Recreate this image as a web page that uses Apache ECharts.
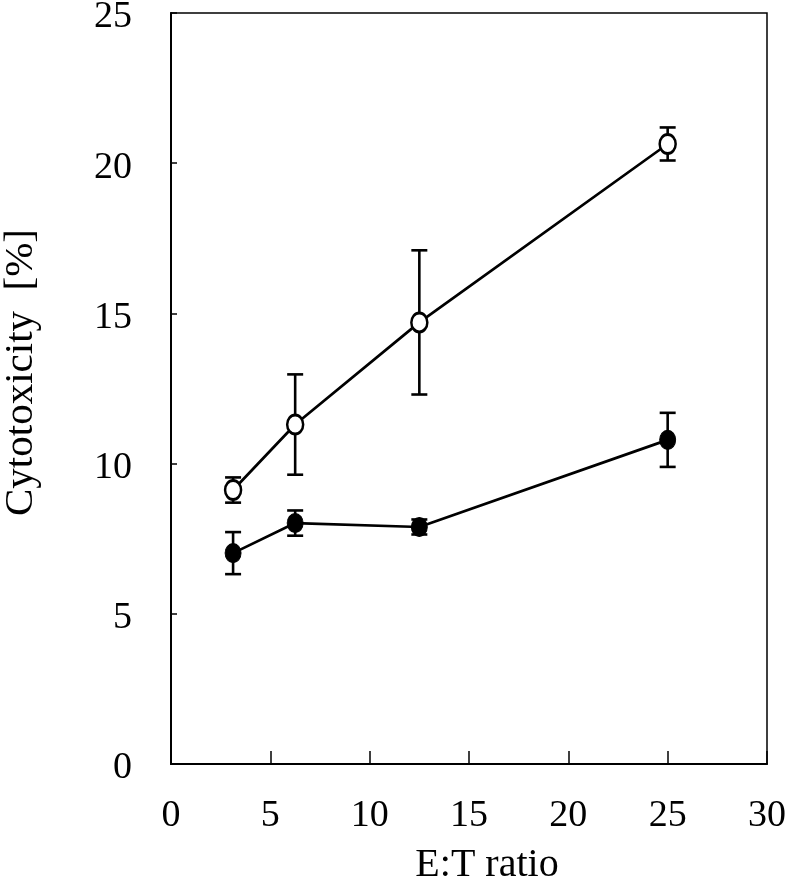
<!DOCTYPE html>
<html>
<head>
<meta charset="utf-8">
<script src="https://cdn.jsdelivr.net/npm/echarts@6/dist/echarts.min.js"></script>
<style>
html,body{margin:0;padding:0;background:#fff;}
#chart{width:787px;height:886px;}
</style>
</head>
<body>
<div id="chart"></div>
<script>
// E:T ratios
var etRatios = [3.125, 6.25, 12.5, 25];
// open circles
var openMean = [9.12, 11.3, 14.7, 20.64];
var openErr = [0.42, 1.67, 2.4, 0.55];
// filled circles
var filledMean = [7.02, 8.02, 7.89, 10.79];
var filledErr = [0.7, 0.42, 0.25, 0.9];
// axis ticks
var xTicks = [0, 5, 10, 15, 20, 25, 30];
var yTicks = [0, 5, 10, 15, 20, 25];

var FONT = '"Liberation Serif", "DejaVu Serif", serif';

function pairs(xs, ys) { return xs.map(function (x, i) { return [x, ys[i]]; }); }
function errData(xs, m, e) { return xs.map(function (x, i) { return [x, m[i] - e[i], m[i] + e[i]]; }); }

function errRender(params, api) {
  var x = api.value(0), lo = api.value(1), hi = api.value(2);
  var pLo = api.coord([x, lo]), pHi = api.coord([x, hi]);
  var w = 8;
  var st = { stroke: '#000', lineWidth: 2.6, fill: null };
  return {
    type: 'group',
    children: [
      { type: 'line', shape: { x1: pLo[0], y1: pLo[1], x2: pHi[0], y2: pHi[1] }, style: st },
      { type: 'line', shape: { x1: pHi[0] - w, y1: pHi[1], x2: pHi[0] + w, y2: pHi[1] }, style: st },
      { type: 'line', shape: { x1: pLo[0] - w, y1: pLo[1], x2: pLo[0] + w, y2: pLo[1] }, style: st }
    ]
  };
}

var chart = echarts.init(document.getElementById('chart'), null, { renderer: 'canvas' });
chart.setOption({
  animation: false,
  backgroundColor: '#fff',
  grid: { left: 171, right: 20, top: 13, bottom: 122, show: true, borderColor: '#000', borderWidth: 1.5, containLabel: false, outerBoundsMode: 'none' },
  xAxis: {
    type: 'value', min: xTicks[0], max: xTicks[xTicks.length - 1], interval: 5,
    name: 'E:T ratio', nameLocation: 'middle', nameGap: 81,
    nameTextStyle: { fontFamily: FONT, fontSize: 40, color: '#000', padding: [0, 0, 0, 36] },
    axisLine: { show: true, lineStyle: { color: '#000', width: 2 } },
    axisTick: { show: true, inside: true, length: 13, lineStyle: { color: '#000', width: 1.5 } },
    axisLabel: { fontFamily: FONT, fontSize: 38, color: '#000', margin: 33, showMinLabel: true, showMaxLabel: true },
    splitLine: { show: false }
  },
  yAxis: {
    type: 'value', min: yTicks[0], max: yTicks[yTicks.length - 1], interval: 5,
    name: 'Cytotoxicity  [%]', nameLocation: 'middle', nameGap: 129, nameRotate: 90,
    nameTextStyle: { fontFamily: FONT, fontSize: 41, color: '#000', padding: [0, 0, 0, 32] },
    axisLine: { show: true, lineStyle: { color: '#000', width: 2 } },
    axisTick: { show: true, inside: true, length: 6, lineStyle: { color: '#000', width: 1.5 } },
    axisLabel: {
      fontFamily: FONT, fontSize: 38, color: '#000', margin: 39, showMinLabel: true, showMaxLabel: true,
      formatter: '{v|{value}}',
      rich: { v: { fontFamily: FONT, fontSize: 38, color: '#000', padding: [9, 0, 0, 0] } }
    },
    splitLine: { show: false }
  },
  series: [
    { type: 'custom', name: 'openErr', renderItem: errRender, data: errData(etRatios, openMean, openErr), z: 1, encode: { x: 0, y: [1, 2] } },
    { type: 'custom', name: 'filledErr', renderItem: errRender, data: errData(etRatios, filledMean, filledErr), z: 1, encode: { x: 0, y: [1, 2] } },
    {
      type: 'line', name: 'open', data: pairs(etRatios, openMean), z: 3,
      symbol: 'circle', symbolSize: [16, 19],
      lineStyle: { color: '#000', width: 2.7 },
      itemStyle: { color: '#fff', borderColor: '#000', borderWidth: 2.7 }
    },
    {
      type: 'line', name: 'filled', data: pairs(etRatios, filledMean), z: 3,
      symbol: 'circle', symbolSize: [16, 19],
      lineStyle: { color: '#000', width: 2.7 },
      itemStyle: { color: '#000', borderColor: '#000', borderWidth: 1 }
    }
  ]
});
</script>
</body>
</html>
